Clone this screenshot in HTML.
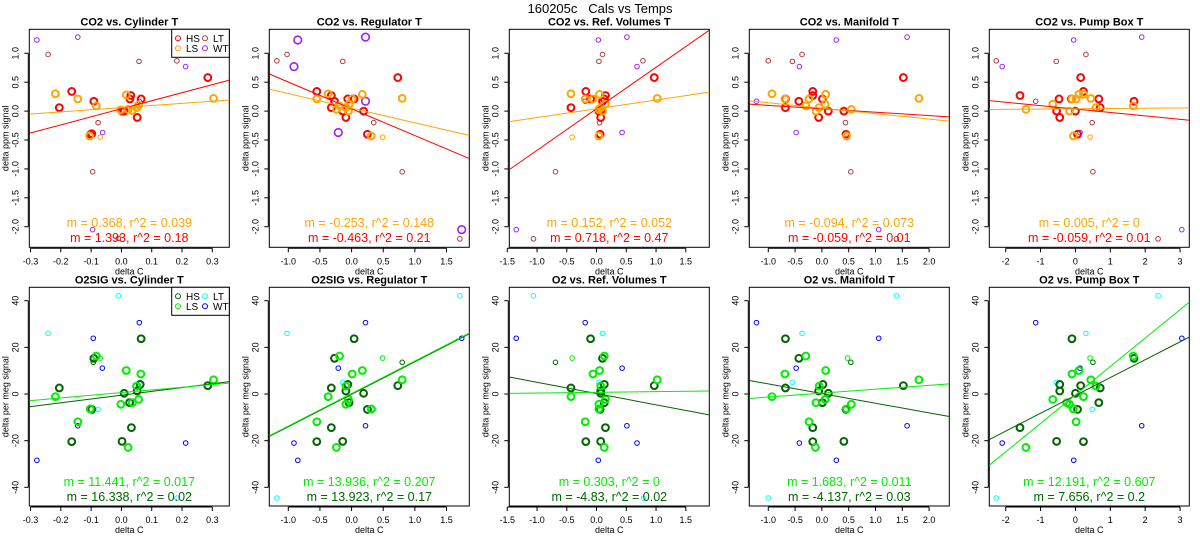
<!DOCTYPE html>
<html><head><meta charset="utf-8">
<style>
body{margin:0;background:#fff;}
svg{display:block;font-family:"Liberation Sans",sans-serif;}
</style></head>
<body>
<svg id="chart" width="1200" height="550" viewBox="0 0 1200 550" xmlns="http://www.w3.org/2000/svg">
<rect width="1200" height="550" fill="#fff"/>
<text x="600" y="13" text-anchor="middle" font-size="13" style="white-space:pre">160205c   Cals vs Temps</text>
</svg>
<script>
// ---------- data ----------
const panelTitles = ["CO2 vs. Cylinder T","CO2 vs. Regulator T","CO2 vs. Ref. Volumes T","CO2 vs. Manifold T","CO2 vs. Pump Box T",
 "O2SIG vs. Cylinder T","O2SIG vs. Regulator T","O2 vs. Ref. Volumes T","O2 vs. Manifold T","O2 vs. Pump Box T"];
const xRanges = [[-0.304,0.356],[-1.30,1.86],[-1.466,1.895],[-1.354,2.377],[-2.47,3.265]];
const xTicks = [[-0.3,-0.2,-0.1,0.0,0.1,0.2,0.3],[-1.0,-0.5,0.0,0.5,1.0,1.5],[-1.5,-1.0,-0.5,0.0,0.5,1.0,1.5],[-1.0,-0.5,0.0,0.5,1.0,1.5,2.0],[-2,-1,0,1,2,3]];
const xTickLabels = [["-0.3","-0.2","-0.1","0.0","0.1","0.2","0.3"],["-1.0","-0.5","0.0","0.5","1.0","1.5"],["-1.5","-1.0","-0.5","0.0","0.5","1.0","1.5"],["-1.0","-0.5","0.0","0.5","1.0","1.5","2.0"],["-2","-1","0","1","2","3"]];
const co2YRange = [-2.356,1.415];
const o2YRange = [-48.0,45.75];
const co2YTicks = [1.0,0.5,0.0,-0.5,-1.0,-1.5,-2.0];
const co2YTickLabels = ["1.0","0.5","0.0","-0.5","-1.0","-1.5","-2.0"];
const o2YTicks = [40,20,0,-20,-40];
const o2YTickLabels = ["40","20","0","-20","-40"];

// CO2 panels: HS, LS, LS-small, LT, WT
const co2HS = [
 [[0.285,0.58],[-0.164,0.34],[-0.091,0.17],[-0.205,0.06],[0.031,0.27],[0.028,0.21],[0.065,0.21],[0.002,0],[0.009,0],[0.052,-0.11],[-0.098,-0.39],[-0.103,-0.41]],
 [[0.73,0.58],[-0.55,0.34],[-0.32,0.27],[-0.27,0.17],[-0.32,0.06],[-0.06,0.21],[0.04,0.21],[-0.14,0],[-0.09,-0.11],[0.19,0],[0.25,-0.40]],
 [[0.97,0.58],[-0.18,0.34],[0.15,0.27],[-0.1,0.21],[0.13,0.21],[0.1,0.17],[-0.43,0.06],[0.07,0],[0.04,0],[0.07,-0.11],[0.06,-0.40]],
 [[1.52,0.58],[-0.17,0.34],[-0.17,0.27],[-0.68,0.21],[0.01,0.21],[-0.43,0.17],[-0.68,0.06],[0.12,0],[0.41,0],[-0.06,-0.11],[0.45,-0.40]],
 [[0.15,0.58],[-1.59,0.27],[-0.47,0.21],[-0.12,0.21],[0.67,0.21],[1.68,0.17],[0.23,0.34],[-0.54,0],[0,0],[0.71,0.06],[-0.45,-0.11],[0.06,-0.40]]
];
const co2LS = [
 [[0.304,0.22],[-0.218,0.30],[-0.144,0.21],[-0.083,0.09],[0.016,0.28],[0.022,0.03],[0.036,0.01],[-0.002,0.02],[0.05,0.06],[0.057,0.11],[-0.105,-0.43]],
 [[0.80,0.22],[-0.55,0.21],[-0.37,0.30],[-0.19,0.09],[0.17,0.29],[0.01,0.21],[-0.04,0.12],[-0.09,0.06],[-0.05,0],[-0.24,0.03],[0.31,-0.43]],
 [[1.02,0.22],[-0.43,0.30],[0.05,0.29],[-0.19,0.21],[-0.06,0.21],[0.15,0.12],[0.07,0.06],[0.04,0.03],[0.1,0],[0.04,-0.43]],
 [[1.81,0.22],[-0.93,0.30],[-0.24,0.21],[-0.69,0.21],[0.07,0.29],[0.06,0.12],[-0.05,0.06],[-0.3,0.09],[-0.11,0],[0.55,0.03],[0.46,-0.43]],
 [[1.66,0.09],[-1.42,0.03],[-0.65,0.12],[0.44,0.22],[0.23,0.29],[0.1,0.29],[-0.1,0.21],[0.02,0.21],[0.59,0.06],[-0.17,0],[-0.06,-0.43]]
];
const co2LSsmall = [[[-0.07,-0.45]],[[0.49,-0.45]],[[-0.41,-0.45]],[[0.48,-0.45]],[[0.42,-0.45]]];
const co2LT = [
 [[-0.242,0.98],[0.058,0.86],[0.183,0.87],[-0.077,-0.20],[-0.095,-1.05],[-0.01,-2.2]],
 [[-1.18,0.87],[-1.02,0.98],[-0.14,0.86],[0.35,-0.2],[0.8,-1.05],[1.71,-2.21]],
 [[0.78,0.87],[0.1,0.98],[0.04,0.86],[0.05,-0.2],[-0.69,-1.05],[-1.06,-2.21]],
 [[-1.0,0.87],[-0.37,0.98],[-0.55,0.86],[0.44,-0.2],[0.54,-1.05],[1.39,-2.21]],
 [[-2.27,0.87],[0.3,0.98],[-0.55,0.86],[0.48,-0.2],[0.5,-1.05],[2.37,-2.21]]
];
const co2WT = [
 [[-0.279,1.23],[-0.144,1.28],[0.212,0.77],[-0.062,-0.37],[-0.095,-2.05],[0.059,0.17]],
 [[-0.85,1.23],[0.22,1.28],[-0.91,0.77],[0.22,0.17],[-0.21,-0.37],[1.74,-2.05]],
 [[0.03,1.23],[0.51,1.28],[0.68,0.77],[-0.19,0.17],[0.43,-0.37],[-1.35,-2.05]],
 [[0.27,1.23],[1.59,1.28],[-0.42,0.77],[-1.22,0.17],[-0.48,-0.37],[1.06,-2.05]],
 [[-0.05,1.23],[1.9,1.28],[-2.1,0.77],[-1.14,0.17],[0.13,-0.37],[3.05,-2.05]]
];
// O2 panels: HS, LS, LS-small, HS-small, LT, WT
const o2HS = [
 [[0.285,3.6],[-0.205,2.6],[-0.091,15.3],[0.065,23.7],[0.009,0.3],[0.052,1.3],[0.027,-3.7],[0.033,-14.4],[0.002,-20.3],[-0.164,-20.4],[-0.098,-6.6],[0.062,4.1]],
 [[0.73,3.6],[-0.32,2.6],[-0.27,15.3],[0.04,23.7],[-0.09,1.3],[-0.06,4.1],[0.19,0.3],[0.25,-6.6],[-0.32,-14.4],[-0.55,-20.4],[-0.14,-20.3],[-0.04,-3.7]],
 [[0.97,3.6],[-0.43,2.6],[0.1,15.3],[-0.1,23.7],[0.07,1.3],[0.13,4.1],[0.07,0.3],[0.06,-6.6],[0.15,-14.4],[-0.18,-20.4],[0.07,-20.3],[0.13,-3.7]],
 [[1.52,3.6],[-0.68,2.6],[-0.43,15.3],[-0.68,23.7],[-0.06,1.3],[0.02,4.1],[0.12,0.3],[0.01,-3.7],[-0.17,-14.4],[-0.17,-20.4],[0.41,-20.3],[0.45,-6.6]],
 [[1.68,15.3],[-0.1,23.7],[0.71,2.6],[0.15,3.6],[-0.45,4.1],[-0.45,1.3],[0,0.3],[0.06,-6.6],[0.67,-3.7],[-1.59,-14.4],[-0.54,-20.3],[0.23,-20.4]]
];
const o2LS = [
 [[0.304,6.1],[-0.218,-1.1],[-0.144,-11.9],[-0.083,16.3],[0.016,10.1],[0.022,-22.9],[0.036,-3.7],[-0.002,-4.4],[0.05,3.4],[0.057,-2.3],[0.064,8.6],[-0.103,-6.4]],
 [[0.8,6.1],[-0.37,-1.1],[-0.55,-11.9],[-0.19,16.3],[0.17,10.1],[-0.24,-22.9],[-0.05,-2.3],[-0.09,-4.4],[0.01,8.6],[0.31,-6.4],[-0.09,3.4]],
 [[1.02,6.1],[-0.43,-1.1],[-0.19,-11.9],[0.13,16.3],[0.05,10.1],[0.13,-22.9],[0.15,-2.3],[0.04,-4.4],[-0.06,8.6],[0.04,-6.4],[0.07,3.4]],
 [[1.81,6.1],[-0.93,-1.1],[-0.24,-11.9],[-0.3,16.3],[0.07,10.1],[-0.12,-22.9],[0.06,-2.3],[-0.11,-3.7],[0.55,-4.4],[-0.69,8.6],[0.46,-6.4],[-0.05,3.4]],
 [[1.66,16.3],[0.44,6.1],[0.1,10.1],[-0.1,8.6],[0.59,3.4],[-0.65,-2.3],[0.23,-1.1],[-0.17,-4.4],[-0.06,-6.4],[0.02,-11.9],[-1.42,-22.9],[-0.25,-3.7]]
];
const o2LSsmall = [[[-0.07,15.4]],[[0.49,15.4]],[[-0.41,15.4]],[[0.48,15.4]],[[0.42,15.4]]];
const o2HSsmall = [[[-0.093,13.6]],[[0.8,13.6]],[[-0.69,13.6]],[[0.54,13.6]],[[0.5,13.6]]];
const o2LT = [
 [[-0.242,26],[-0.01,42.1],[-0.077,-6.6],[0.059,5],[0.183,-44.6]],
 [[-1.02,26],[1.71,42.1],[-0.14,5],[0.35,-6.6],[-1.18,-44.6]],
 [[0.1,26],[-1.06,42.1],[0.04,5],[0.79,-44.6]],
 [[-0.37,26],[1.39,42.1],[-0.55,5],[0.44,-6.6],[-1.0,-44.6]],
 [[0.3,26],[2.37,42.1],[-0.55,5],[0.48,-6.6],[-2.27,-44.6]]
];
const o2WT = [
 [[-0.279,-28.4],[-0.093,23.9],[-0.063,11.1],[0.059,30.6],[0.212,-21],[-0.144,-13.6]],
 [[0.22,30.6],[1.74,23.9],[-0.21,11.1],[0.22,-13.6],[-0.91,-21],[-0.85,-28.4]],
 [[-0.19,30.6],[-1.35,23.9],[0.43,11.1],[0.51,-13.6],[0.68,-21],[0.03,-28.4]],
 [[-1.22,30.6],[1.06,23.9],[-0.48,11.1],[1.59,-13.6],[-0.42,-21],[0.27,-28.4]],
 [[-1.14,30.6],[3.05,23.9],[0.13,11.1],[1.9,-13.6],[-2.1,-21],[-0.05,-28.4]]
];
// regression lines
const co2LSslope = [0.368,-0.253,0.152,-0.094,0.005];
const co2LSint = [0.06,0.05,0.04,0.05,0.04];
const co2LSr2 = ["0.039","0.148","0.052","0.073","0"];
const co2HSslope = [1.393,-0.463,0.718,-0.059,-0.059];
const co2HSint = [0.04,0.04,0.04,0.04,0.035];
const co2HSr2 = ["0.18","0.21","0.47","0.01","0.01"];
const o2LSslope = [11.441,13.936,0.303,1.683,12.191];
const o2LSint = [0.6,0.2,0.7,0.37,-0.4];
const o2LSr2 = ["0.017","0.207","0","0.011","0.607"];
const o2HSslope = [16.338,13.923,-4.83,-4.137,7.656];
const o2HSint = [-0.5,-0.1,0.2,0.2,-0.6];
const o2HSr2 = ["0.02","0.17","0.02","0.03","0.2"];

// ---------- drawing ----------
const svg = document.getElementById('chart');
const NS = 'http://www.w3.org/2000/svg';
function mk(tag, attrs, parent){ const e=document.createElementNS(NS,tag); for(const k in attrs) e.setAttribute(k,attrs[k]); (parent||svg).appendChild(e); return e; }

const C = {red:'#ff0000',orange:'#ffa500',brown:'#b03a3a',purple:'#a020f0',dgreen:'#006400',green:'#00ee00',cyan:'#00ffff',blue:'#0000ff'};

for(let p=0;p<10;p++){
  const col = p%5, row = Math.floor(p/5);
  const L = 29.3 + 240*col, W = 200;
  const T = row ? 287.3 : 29.3, B = row ? 506 : 247.3;
  const xr = xRanges[col], yr = row ? o2YRange : co2YRange;
  const xs = v => L + (v-xr[0])/(xr[1]-xr[0])*W;
  const ys = v => B - (v-yr[0])/(yr[1]-yr[0])*(B-T);
  const g = mk('g',{});
  
  
  const clipId='clip'+p;
  const cp = mk('clipPath',{id:clipId},g); mk('rect',{x:L,y:T,width:W,height:B-T},cp);

  const t = mk('text',{x:L+W/2,y:T-4,'text-anchor':'middle','font-size':'11','font-weight':'bold'},g);
  t.textContent = panelTitles[p];
  
  

  const xa = mk('g',{},g);
  
  
  const tk = xTicks[col];
  mk('line',{x1:xs(tk[0]),x2:xs(tk[tk.length-1]),y1:B+1,y2:B+1,stroke:'#000','stroke-width':1},xa);
  tk.forEach((v,i)=>{
    mk('line',{x1:xs(v),x2:xs(v),y1:B+1,y2:B+5,stroke:'#000','stroke-width':1},xa);
    const tl = mk('text',{x:xs(v),y:B+17,'text-anchor':'middle','font-size':'9'},xa);
    tl.textContent = xTickLabels[col][i];
    
    
  });
  const xl = mk('text',{x:L+W/2,y:B+27,'text-anchor':'middle','font-size':'9'},g);
  xl.textContent='delta C';
  
  

  const ya = mk('g',{},g);
  
  
  const yt = row ? o2YTicks : co2YTicks, ytl = row ? o2YTickLabels : co2YTickLabels;
  mk('line',{x1:L-1,x2:L-1,y1:ys(yt[0]),y2:ys(yt[yt.length-1]),stroke:'#000','stroke-width':1},ya);
  yt.forEach((v,i)=>{
    mk('line',{x1:L-5,x2:L-1,y1:ys(v),y2:ys(v),stroke:'#000','stroke-width':1},ya);
    const tl = mk('text',{x:0,y:0,'text-anchor':'middle','font-size':'9',transform:`translate(${L-11},${ys(v)}) rotate(-90)`},ya);
    tl.textContent = ytl[i];
    
    
  });
  const yl = mk('text',{x:0,y:0,'text-anchor':'middle','font-size':'9',transform:`translate(${L-21},${(T+B)/2}) rotate(-90)`},g);
  yl.textContent = row ? 'delta per meg signal' : 'delta ppm signal';
  
  

  const fr = mk('rect',{x:L,y:T,width:W,height:B-T,fill:'none',stroke:'#000','stroke-width':1},g);
  
  

  const pg = mk('g',{'clip-path':`url(#${clipId})`},g);
  function pts(arr,color,r,sw,name){
    arr.forEach(d=>{
      const c = mk('circle',{cx:xs(d[0]),cy:ys(d[1]),r:r,fill:'none',stroke:color,'stroke-width':sw},pg);
      
      
    });
  }
  function line(m,b,color,name){
    const l = mk('line',{x1:xs(xr[0]),y1:ys(m*xr[0]+b),x2:xs(xr[1]),y2:ys(m*xr[1]+b),stroke:color,'stroke-width':1},pg);
    
    
  }
  let hsC,lsC,ltC,wtC;
  if(!row){
    hsC=C.red; lsC=C.orange; ltC=C.brown; wtC=C.purple;
    pts(co2LT[col],ltC,2.3,1,'lt-point');
    pts(co2WT[col],wtC,col===1?3.8:2.3,col===1?1.6:1,'wt-point');
    pts(co2LSsmall[col],lsC,2.3,1,'ls-small-point');
    pts(co2HS[col],hsC,3.4,2,'hs-point');
    pts(co2LS[col],lsC,3.4,2,'ls-point');
    line(co2HSslope[col],co2HSint[col],hsC,'hs-fit-line');
    line(co2LSslope[col],co2LSint[col],lsC,'ls-fit-line');
  } else {
    hsC=C.dgreen; lsC=C.green; ltC=C.cyan; wtC=C.blue;
    pts(o2LT[col],ltC,2.3,1,'lt-point');
    pts(o2WT[col],wtC,2.3,1,'wt-point');
    pts(o2LSsmall[col],lsC,2.3,1,'ls-small-point');
    pts(o2HSsmall[col],hsC,2.3,1,'hs-small-point');
    pts(o2HS[col],hsC,3.4,2,'hs-point');
    pts(o2LS[col],lsC,3.4,2,'ls-point');
    line(o2HSslope[col],o2HSint[col],hsC,'hs-fit-line');
    line(o2LSslope[col],o2LSint[col],lsC,'ls-fit-line');
  }
  const s1 = mk('text',{x:L+W/2,y:row?486:227,'text-anchor':'middle','font-size':'12.5',fill:lsC},g);
  s1.textContent = row ? `m = ${o2LSslope[col]}, r^2 = ${o2LSr2[col]}` : `m = ${co2LSslope[col]}, r^2 = ${co2LSr2[col]}`;
  
  
  const s2 = mk('text',{x:L+W/2,y:row?501:242,'text-anchor':'middle','font-size':'12.5',fill:hsC},g);
  s2.textContent = row ? `m = ${o2HSslope[col]}, r^2 = ${o2HSr2[col]}` : `m = ${co2HSslope[col]}, r^2 = ${co2HSr2[col]}`;
  
  

  if(col===0){
    const lg = mk('g',{},g);
    
    
    mk('rect',{x:171.7,y:T,width:L+W-171.7,height:28,fill:'#fff',stroke:'#000','stroke-width':1},lg);
    const ents=[['HS',hsC,178,T+9],['LS',lsC,178,T+19],['LT',ltC,205,T+9],['WT',wtC,205,T+19]];
    ents.forEach(e=>{
      const eg = mk('g',{},lg);
      
      
      mk('circle',{cx:e[2],cy:e[3],r:2.5,fill:'none',stroke:e[1],'stroke-width':1},eg);
      const et = mk('text',{x:e[2]+8,y:e[3]+3.5,'font-size':'10'},eg);
      et.textContent=e[0];
    });
  }
}
</script>
</body></html>
